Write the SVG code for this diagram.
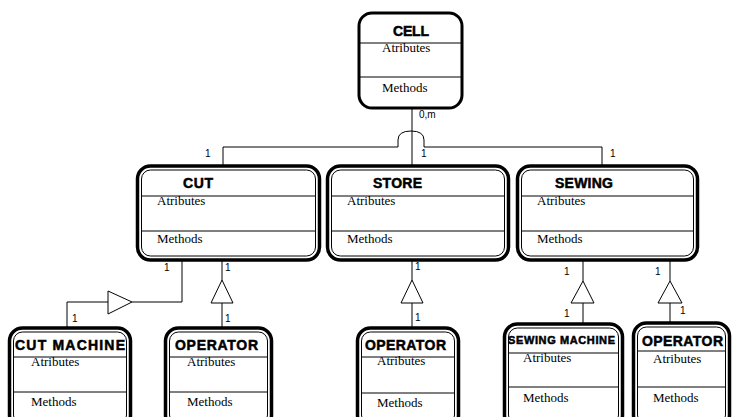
<svg xmlns="http://www.w3.org/2000/svg" width="734" height="417" viewBox="0 0 734 417">
<style>
.outer{fill:#fff;stroke:#000;stroke-width:3.5}
.inner{fill:none;stroke:#000;stroke-width:1}
.sep{stroke:#000;stroke-width:1}
.title{font-family:"Liberation Sans",Arial,sans-serif;font-weight:bold;font-size:14px;fill:#000;stroke:#000;stroke-width:0.5}
.body{font-family:"Liberation Serif","Times New Roman",serif;font-size:13px;fill:#000}
.lbl{font-family:"Liberation Sans",Arial,sans-serif;font-size:10px;fill:#000}
.con{fill:none;stroke:#000;stroke-width:1}
.tri{fill:#fff;stroke:#000;stroke-width:1}
</style>
<rect width="734" height="417" fill="#fff"/>
<g id="connectors">
<path class="con" d="M223,166 V147 H398 V140 Q398,131 411,131 Q424,131 424,140 V147 H602 V166"/>
<path class="con" d="M412,108 V166"/>
<path class="con" d="M182,261 V302 H132"/>
<polygon class="tri" points="132,302 108,291 108,314"/>
<path class="con" d="M108,302 H67 V328"/>
<path class="con" d="M222,261 V280 M222,303 V328"/>
<polygon class="tri" points="222,280 211,303 233,303"/>
<path class="con" d="M412,261 V280 M412,303 V328"/>
<polygon class="tri" points="412,280 401,303 423,303"/>
<path class="con" d="M583,261 V281 M583,303 V324"/>
<polygon class="tri" points="583,281 571,303 594,303"/>
<path class="con" d="M670,261 V281 M670,303 V323"/>
<polygon class="tri" points="670,281 658,303 682,303"/>
<text class="lbl" x="419" y="118">0,m</text>
<text class="lbl" x="205" y="157">1</text>
<text class="lbl" x="421" y="157">1</text>
<text class="lbl" x="610" y="157">1</text>
<text class="lbl" x="164" y="271">1</text>
<text class="lbl" x="225" y="271">1</text>
<text class="lbl" x="72" y="322">1</text>
<text class="lbl" x="225" y="322">1</text>
<text class="lbl" x="415" y="270">1</text>
<text class="lbl" x="415" y="321">1</text>
<text class="lbl" x="564" y="275">1</text>
<text class="lbl" x="564" y="317">1</text>
<text class="lbl" x="655" y="275">1</text>
<text class="lbl" x="680" y="314">1</text>
</g>
<g id="cell">
<rect x="359" y="13" width="103" height="95" rx="13" fill="#fff" stroke="#000" stroke-width="3"/>
<line class="sep" x1="360" y1="43" x2="461" y2="43"/>
<line class="sep" x1="360" y1="77" x2="461" y2="77"/>
<text class="title" x="393" y="36" textLength="36">CELL</text>
<text class="body" x="382" y="52">Atributes</text>
<text class="body" x="382" y="92">Methods</text>
</g>
<g id="cut">
<rect class="outer" x="137.5" y="166" width="182" height="94" rx="13"/>
<rect class="inner" x="141.5" y="170" width="174" height="86" rx="9"/>
<line class="sep" x1="142" y1="196" x2="315" y2="196"/>
<line class="sep" x1="142" y1="231" x2="315" y2="231"/>
<text class="title" x="183" y="188" textLength="30">CUT</text>
<text class="body" x="157" y="205">Atributes</text>
<text class="body" x="157" y="243">Methods</text>
</g>
<g id="store">
<rect class="outer" x="327.5" y="166" width="181" height="94" rx="13"/>
<rect class="inner" x="331.5" y="170" width="173" height="86" rx="9"/>
<line class="sep" x1="332" y1="196" x2="504" y2="196"/>
<line class="sep" x1="332" y1="231" x2="504" y2="231"/>
<text class="title" x="373" y="188" textLength="49">STORE</text>
<text class="body" x="347" y="205">Atributes</text>
<text class="body" x="347" y="243">Methods</text>
</g>
<g id="sewing">
<rect class="outer" x="517.5" y="166" width="180" height="94" rx="13"/>
<rect class="inner" x="521.5" y="170" width="172" height="86" rx="9"/>
<line class="sep" x1="522" y1="196" x2="693" y2="196"/>
<line class="sep" x1="522" y1="231" x2="693" y2="231"/>
<text class="title" x="555" y="188" textLength="58">SEWING</text>
<text class="body" x="537" y="205">Atributes</text>
<text class="body" x="537" y="243">Methods</text>
</g>
<g id="cut-machine">
<rect class="outer" x="9.5" y="328" width="121" height="100" rx="13"/>
<rect class="inner" x="13.5" y="332" width="113" height="92" rx="9"/>
<line class="sep" x1="14" y1="357" x2="126" y2="357"/>
<line class="sep" x1="14" y1="392" x2="126" y2="392"/>
<text class="title" x="15" y="350" textLength="110">CUT MACHINE</text>
<text class="body" x="31" y="366">Atributes</text>
<text class="body" x="31" y="406">Methods</text>
</g>
<g id="cut-operator">
<rect class="outer" x="165.5" y="328" width="106" height="100" rx="13"/>
<rect class="inner" x="169.5" y="332" width="98" height="92" rx="9"/>
<line class="sep" x1="170" y1="357" x2="267" y2="357"/>
<line class="sep" x1="170" y1="392" x2="267" y2="392"/>
<text class="title" x="175" y="350" textLength="83">OPERATOR</text>
<text class="body" x="187" y="366">Atributes</text>
<text class="body" x="187" y="406">Methods</text>
</g>
<g id="store-operator">
<rect class="outer" x="357.5" y="328" width="101" height="100" rx="13"/>
<rect class="inner" x="361.5" y="332" width="93" height="92" rx="9"/>
<line class="sep" x1="362" y1="357" x2="454" y2="357"/>
<line class="sep" x1="362" y1="393" x2="454" y2="393"/>
<text class="title" x="365" y="350" textLength="81">OPERATOR</text>
<text class="body" x="377" y="365">Atributes</text>
<text class="body" x="377" y="407">Methods</text>
</g>
<g id="sewing-machine">
<rect class="outer" x="504.5" y="324" width="118" height="104" rx="13"/>
<rect class="inner" x="508.5" y="328" width="110" height="96" rx="9"/>
<line class="sep" x1="509" y1="353" x2="618" y2="353"/>
<line class="sep" x1="509" y1="387" x2="618" y2="387"/>
<text class="title" x="508" y="344" textLength="107" style="font-size:11px">SEWING MACHINE</text>
<text class="body" x="523" y="362">Atributes</text>
<text class="body" x="523" y="402">Methods</text>
</g>
<g id="sewing-operator">
<rect class="outer" x="633.5" y="323" width="96" height="105" rx="13"/>
<rect class="inner" x="637.5" y="327" width="88" height="97" rx="9"/>
<line class="sep" x1="638" y1="351" x2="725" y2="351"/>
<line class="sep" x1="638" y1="387" x2="725" y2="387"/>
<text class="title" x="642" y="346" textLength="81">OPERATOR</text>
<text class="body" x="653" y="363">Atributes</text>
<text class="body" x="653" y="402">Methods</text>
</g>
</svg>
